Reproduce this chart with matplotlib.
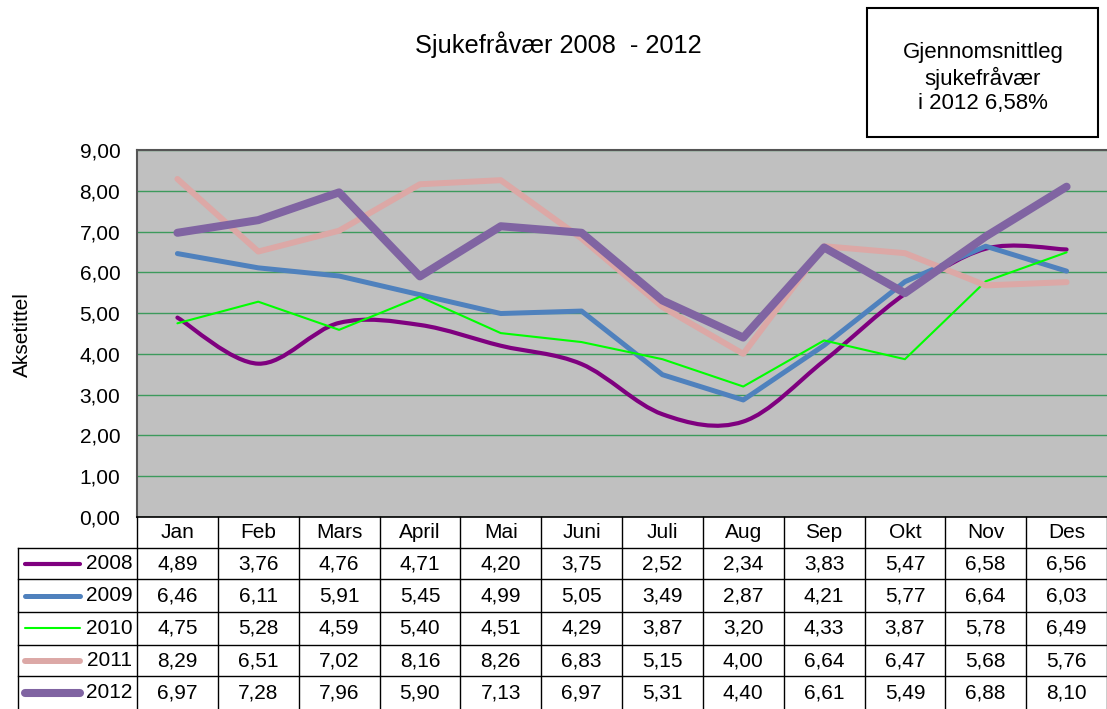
import numpy as np
import matplotlib
matplotlib.use('Agg')
import matplotlib.pyplot as plt
from matplotlib.path import Path
from matplotlib.patches import PathPatch, Rectangle

plt.rcParams['font.family'] = ['Liberation Sans', 'DejaVu Sans']

# data
months = ['Jan', 'Feb', 'Mars', 'April', 'Mai', 'Juni', 'Juli', 'Aug', 'Sep', 'Okt', 'Nov', 'Des']
years = ['2008', '2009', '2010', '2011', '2012']
v2008 = [4.89, 3.76, 4.76, 4.71, 4.20, 3.75, 2.52, 2.34, 3.83, 5.47, 6.58, 6.56]
v2009 = [6.46, 6.11, 5.91, 5.45, 4.99, 5.05, 3.49, 2.87, 4.21, 5.77, 6.64, 6.03]
v2010 = [4.75, 5.28, 4.59, 5.40, 4.51, 4.29, 3.87, 3.20, 4.33, 3.87, 5.78, 6.49]
v2011 = [8.29, 6.51, 7.02, 8.16, 8.26, 6.83, 5.15, 4.00, 6.64, 6.47, 5.68, 5.76]
v2012 = [6.97, 7.28, 7.96, 5.90, 7.13, 6.97, 5.31, 4.40, 6.61, 5.49, 6.88, 8.10]
series = [v2008, v2009, v2010, v2011, v2012]
yticks = [0, 1, 2, 3, 4, 5, 6, 7, 8, 9]

colors = ['#7F007F', '#4F81BD', '#00FF00', '#DCA8A6', '#8064A2']
widths = [3.0, 3.6, 1.5, 4.3, 5.8]
smooth = [True, False, False, False, False]

def comma(v):
    return ('%.2f' % v).replace('.', ',')

W, H = 1107, 709
fig = plt.figure(figsize=(W / 100, H / 100), dpi=100)

def fx(px):
    return px / W

def fy(py):
    return 1 - py / H

# plot area
ax = fig.add_axes([fx(137), fy(517), fx(1107 - 137), (517 - 150) / H])
ax.set_facecolor('#C0C0C0')
ax.set_xlim(-0.5, 11.5)
ax.set_ylim(0, 9)
ax.set_yticks(yticks)
ax.set_yticklabels([comma(t) for t in yticks])
ax.set_xticks([])
ax.tick_params(axis='y', length=0, pad=12, labelsize=15)
ax.grid(axis='y', color='#3C9A5C', lw=1.0)
ax.set_axisbelow(True)
for s in ['top', 'left']:
    ax.spines[s].set_color('#555555')
    ax.spines[s].set_linewidth(1.5)
ax.spines['right'].set_visible(False)
ax.spines['bottom'].set_color('black')
ax.spines['bottom'].set_linewidth(1.2)

x = np.arange(len(months))

def smooth_path(xs, ys):
    # Catmull-Rom style bezier through the data points
    pts = np.column_stack([xs, ys]).astype(float)
    verts = [pts[0]]
    codes = [Path.MOVETO]
    n = len(pts)
    for i in range(n - 1):
        p0 = pts[max(i - 1, 0)]
        p1 = pts[i]
        p2 = pts[i + 1]
        p3 = pts[min(i + 2, n - 1)]
        c1 = p1 + (p2 - p0) / 6
        c2 = p2 - (p3 - p1) / 6
        verts += [c1, c2, p2]
        codes += [Path.CURVE4] * 3
    return Path(verts, codes)

for vals, c, lw, sm in zip(series, colors, widths, smooth):
    if sm:
        ax.add_patch(PathPatch(smooth_path(x, vals), fc='none', ec=c, lw=lw,
                               capstyle='round', joinstyle='round'))
    else:
        ax.plot(x, vals, color=c, lw=lw, solid_capstyle='round', solid_joinstyle='round')

# data table below the plot
tab = fig.add_axes([fx(18), 0, fx(1107 - 18), fy(517)])
tab.set_xlim(-0.5 - (137 - 18) / ((1107 - 137) / 12), 11.5)
tab.set_ylim(711, 517)
tab.axis('off')
xl = tab.get_xlim()[0]
rows = [548, 580, 613, 646, 678, 711]
lc = 'black'
for i in range(13):
    tab.plot([i - 0.5, i - 0.5], [517, 711], color=lc, lw=1.0, clip_on=False)
tab.plot([xl, xl], [548, 711], color=lc, lw=1.0, clip_on=False)
for r in rows[:-1]:
    tab.plot([xl, 11.5], [r, r], color=lc, lw=1.0, clip_on=False)
for i, m in enumerate(months):
    tab.text(i, 533, m, ha='center', va='center', fontsize=15)
for j, (yr, vals) in enumerate(zip(years, series)):
    yc = (rows[j] + rows[j + 1]) / 2
    tab.plot([xl + 0.09, xl + 0.77], [yc, yc], color=colors[j], lw=widths[j],
             solid_capstyle='round', clip_on=False)
    tab.text(-0.56, yc, yr, ha='right', va='center', fontsize=15)
    for i, v in enumerate(vals):
        tab.text(i, yc, comma(v), ha='center', va='center', fontsize=15)

# title, axis title and info box
fig.text(fx(558), fy(45), 'Sjukefråvær 2008  - 2012', ha='center', va='center', fontsize=18.3)
fig.text(fx(22), fy(335), 'Aksetittel', ha='center', va='center', rotation=90, fontsize=15)
fig.patches.append(Rectangle((fx(867), fy(137)), fx(1098 - 867), (137 - 8) / H,
                             transform=fig.transFigure, fc='white', ec='black', lw=1.5))
fig.text(fx(983), fy(78), 'Gjennomsnittleg\nsjukefråvær\ni 2012 6,58%',
         ha='center', va='center', fontsize=16, linespacing=1.22)

fig.savefig('out.png', dpi=100)
